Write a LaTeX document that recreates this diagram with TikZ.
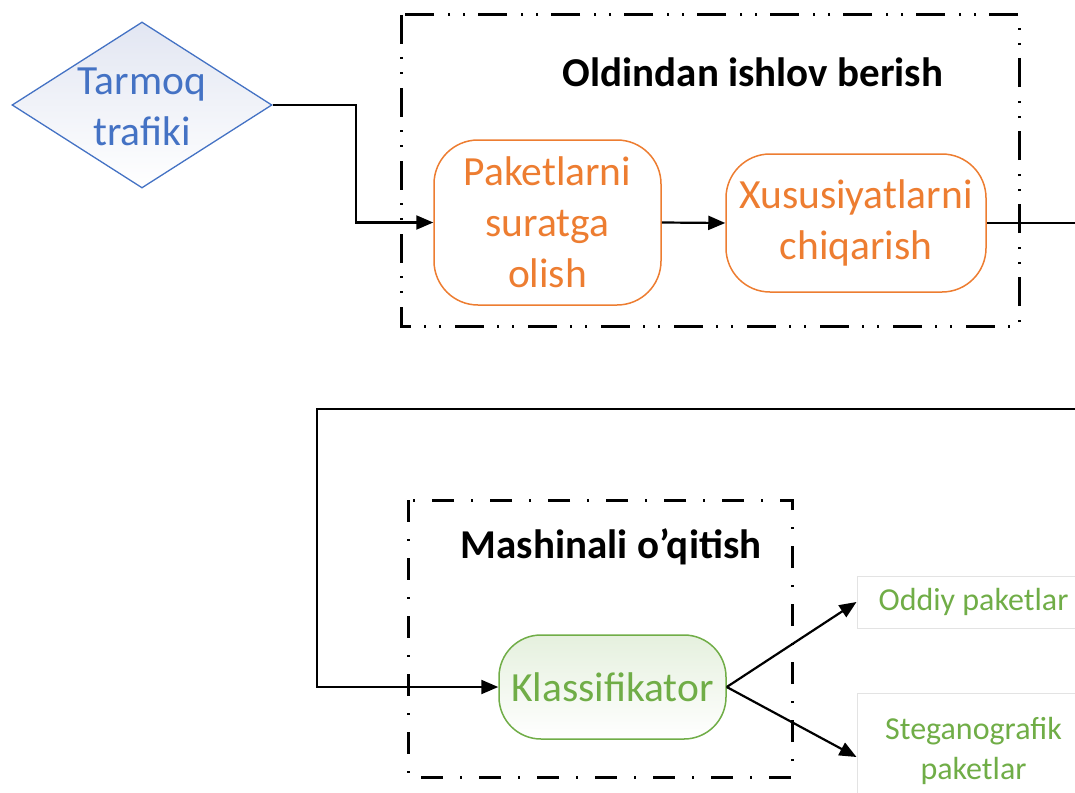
\documentclass[tikz,border=0pt]{standalone}
\usepackage{fontspec}
\setmainfont{Carlito}
\usetikzlibrary{shapes.geometric,arrows.meta}
\definecolor{cblue}{HTML}{4472C4}
\definecolor{corange}{HTML}{ED7D31}
\definecolor{cgreen}{HTML}{70AD47}
\definecolor{cgray}{HTML}{E3E3E3}
\definecolor{lav}{HTML}{E2E6F2}
\tikzset{
  big/.style={font=\fontsize{41.5}{51}\selectfont},
  small/.style={font=\fontsize{32}{40}\selectfont},
  orangebox/.style={draw=corange, line width=1.5pt, rounded corners=44pt, fill=white, text=corange, big, align=center, inner sep=0pt},
  greenbox/.style={draw=cgreen, line width=1.5pt, rounded corners=42pt, top color=cgreen!18!white, bottom color=white, text=cgreen, big, align=center, inner sep=0pt},
  outbox/.style={draw=cgray, line width=1pt, text=cgreen, small, align=center, inner sep=0pt},
  conn/.style={line width=2.2pt, black},
  arr/.style={conn, -{Triangle[length=17pt,width=14pt]}},
  groupA/.style={line width=3pt, dash pattern=on 29pt off 13pt on 2pt off 13pt on 2pt off 14pt},
  groupB/.style={line width=3pt, dash pattern=on 22pt off 17pt on 2pt off 17pt},
  title/.style={font=\fontsize{41}{51}\selectfont\bfseries, anchor=base}
}
\begin{document}
\begin{tikzpicture}[x=1pt,y=-1pt]
\useasboundingbox (0,0) rectangle (1075,792);
% group frames
\draw[groupA] (401,15) rectangle (1019,326);
\draw[groupB] (408,500) rectangle (792,777);
\node[title] (t1) at (753,86) {Oldindan ishlov berish};
\node[title] (t2) at (611,558) {Mashinali o’qitish};
% diamond
\node[diamond, draw=cblue, line width=1.3pt, minimum width=260pt, minimum height=166pt, inner sep=0pt, aspect=1.566, top color=lav, bottom color=white] (d) at (142,105) {};
\node[text=cblue, big, align=center] (dt) at (142,107) {Tarmoq\\trafiki};
% process boxes
\node[orangebox, minimum width=227pt, minimum height=165pt] (p) at (547.5,222.5) {Paketlarni\\suratga\\olish};
\node[orangebox, minimum width=260pt, minimum height=138pt] (x) at (856,223) {Xususiyatlarni\\chiqarish};
\node[greenbox, minimum width=227pt, minimum height=104pt] (k) at (612.5,687) {Klassifikator};
\node[outbox, minimum width=233pt, minimum height=52pt] (o) at (973.5,602) {Oddiy paketlar};
\node[outbox, minimum width=233pt, minimum height=116pt] (s) at (973.5,751) {Steganografik\\paketlar};
% connectors
\coordinate (b1) at (356,105);
\coordinate (r1) at (1100,223);
\coordinate (r2) at (1100,409);
\coordinate (l1) at (317,409);
\draw[arr] (d.east) -- (b1) |- (p.west);
\draw[arr] (p.east) -- (x.west);
\draw[arr] (x.east) -- (r1) -- (r2) -- (l1) |- (k.west);
\draw[arr] (k.east) -- (o.west);
\draw[arr] (k.east) -- ([yshift=-6pt]s.west);
\end{tikzpicture}
\end{document}
